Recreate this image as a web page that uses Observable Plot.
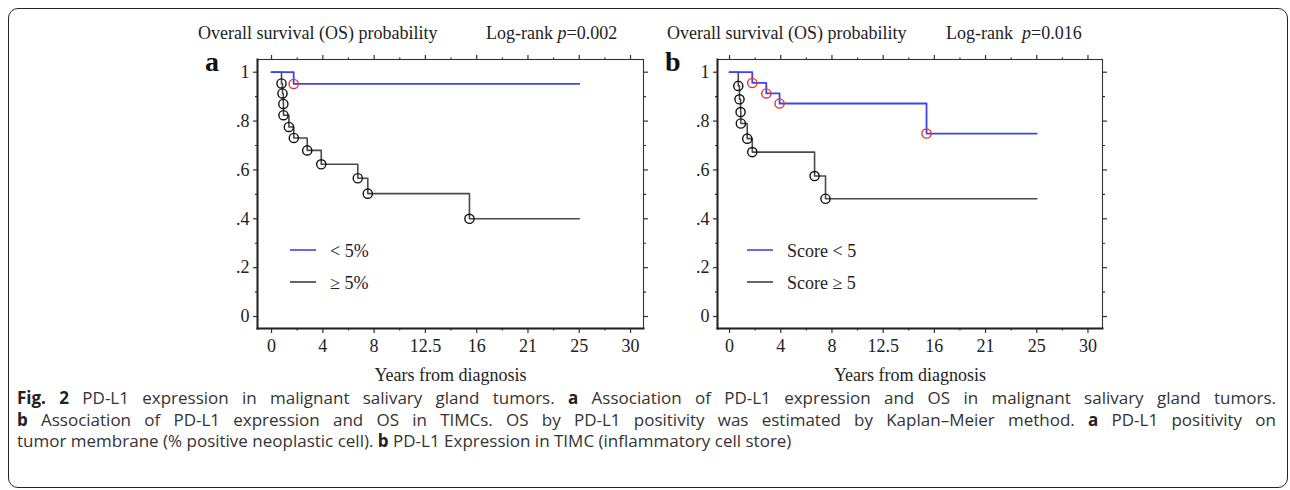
<!DOCTYPE html>
<html><head><meta charset="utf-8">
<script src="https://cdn.jsdelivr.net/npm/d3@7"></script>
<script src="https://cdn.jsdelivr.net/npm/@observablehq/plot@0.6"></script>
<style>
body{margin:0;background:#fff;width:1290px;height:490px;overflow:hidden;position:relative;font-family:"Liberation Serif",serif;}
#border{position:absolute;left:8px;top:8px;width:1280px;height:480px;border:1.6px solid #222;border-radius:10px;box-sizing:border-box;}
.panel{position:absolute;top:0;}
.t{position:absolute;font-size:18px;line-height:18px;color:#222;white-space:nowrap;}
.letter{position:absolute;font-size:28px;line-height:28px;font-weight:bold;color:#111;}
.lg{position:absolute;height:0;border-top:2px solid;}
#caption{position:absolute;left:17px;width:1259px;top:387px;font-family:"Open Sans",sans-serif;font-size:17px;line-height:21.6px;color:#333;}
#caption div{white-space:nowrap;}
#caption .j{text-align:justify;text-align-last:justify;white-space:normal;}
#caption b{color:#222;}
</style></head>
<body>
<div id="border"></div>
<div id="pa" class="panel" style="left:160px"></div>
<div id="pb" class="panel" style="left:620px"></div>
<div id="labels"></div>
<div id="caption"></div>
<script>
// ---- data ----
const xTickLabels = ["0","4","8","12.5","16","21","25","30"];
const yTickLabels = ["0",".2",".4",".6",".8","1"];
const followUpEnd = 25;
// Panel a: PD-L1 on tumor membrane
const aLowTimes  = [0, 1.8];
const aLowSurv   = [1, 0.952];
const aHighTimes = [0, 0.81, 0.89, 0.96, 0.97, 1.41, 1.81, 2.9, 4.04, 7.01, 7.82, 16.08];
const aHighSurv  = [1, 0.954, 0.913, 0.870, 0.824, 0.776, 0.731, 0.680, 0.623, 0.566, 0.503, 0.400];
// Panel b: TIMC score
const bLowTimes  = [0, 1.85, 2.99, 4.07, 16.03];
const bLowSurv   = [1, 0.956, 0.913, 0.872, 0.749];
const bHighTimes = [0, 0.71, 0.81, 0.90, 0.92, 1.44, 1.85, 6.92, 7.81];
const bHighSurv  = [1, 0.944, 0.889, 0.837, 0.790, 0.728, 0.673, 0.575, 0.482];

const panelTitle = "Overall survival (OS) probability";
const pValues = ["0.002", "0.016"];
const legendA = ["< 5%", "\u2265 5%"];
const legendB = ["Score < 5", "Score \u2265 5"];
const xLabel = "Years from diagnosis";

const BLUE = "#3a45ee", DARK = "#4a4a4a", RED = "#e4362f";

function curve(times, surv) {
  const pts = times.map((t, i) => ({t, s: surv[i]}));
  pts.push({t: followUpEnd, s: surv[surv.length - 1]});
  return pts;
}
function events(times, surv) {
  return times.slice(1).map((t, i) => ({t, s: surv[i + 1]}));
}

const step = 25 / 6;
const xMajor = xTickLabels.map((_, i) => i * step);
const xMinor = d3.range(7).map(i => (i + 0.5) * step);
const yMajor = yTickLabels.map((_, i) => i / 5);
const yMinor = [0.1, 0.3, 0.5, 0.7, 0.9];

function panel(low, high, xDomain, marginRight) {
  const tc = "#333";
  return Plot.plot({
    width: 500, height: 400,
    marginLeft: 97, marginRight, marginTop: 59, marginBottom: 72,
    x: {domain: xDomain, label: null},
    y: {domain: [-0.049, 1.052], label: null},
    style: {fontFamily: "'Liberation Serif', serif", fontSize: "18px", color: "#222", background: "transparent", overflow: "visible"},
    marks: [
      Plot.axisX(xMajor, {anchor: "bottom", tickSize: 5, tickPadding: 5.5, stroke: tc, strokeWidth: 1.2, label: null, tickFormat: d => xTickLabels[Math.round(d / step)]}),
      Plot.axisX(xMinor, {anchor: "bottom", tickSize: 2.5, stroke: tc, strokeWidth: 1.2, label: null, tickFormat: () => ""}),
      Plot.axisX(xMajor, {anchor: "top", tickSize: 5, stroke: tc, strokeWidth: 1.2, label: null, tickFormat: () => ""}),
      Plot.axisX(xMinor, {anchor: "top", tickSize: 2.5, stroke: tc, strokeWidth: 1.2, label: null, tickFormat: () => ""}),
      Plot.axisY(yMajor, {anchor: "left", tickSize: 4, tickPadding: 4, stroke: tc, strokeWidth: 1.2, label: null, tickFormat: d => yTickLabels[Math.round(d * 5)]}),
      Plot.axisY(yMinor, {anchor: "left", tickSize: 2, stroke: tc, strokeWidth: 1.2, label: null, tickFormat: () => ""}),
      Plot.axisY(yMajor, {anchor: "right", tickSize: 4, stroke: tc, strokeWidth: 1.2, label: null, tickFormat: () => ""}),
      Plot.axisY(yMinor, {anchor: "right", tickSize: 2, stroke: tc, strokeWidth: 1.2, label: null, tickFormat: () => ""}),
      Plot.frame({stroke: "#333", strokeWidth: 1.1}),
      Plot.frame({anchor: "left", stroke: "#222", strokeWidth: 2}),
      Plot.frame({anchor: "bottom", stroke: "#222", strokeWidth: 2}),
      Plot.text([xLabel], {frameAnchor: "bottom", dy: 52, text: d => d, fontSize: 18, fill: "#222"}),
      Plot.line(curve(high[0], high[1]), {x: "t", y: "s", stroke: DARK, strokeWidth: 1.6, curve: "step-after"}),
      Plot.dot(events(high[0], high[1]), {x: "t", y: "s", r: 4.6, stroke: "#111", strokeWidth: 1.4, fill: "none"}),
      Plot.line(curve(low[0], low[1]), {x: "t", y: "s", stroke: BLUE, strokeWidth: 1.8, curve: "step-after"}),
      Plot.dot(events(low[0], low[1]), {x: "t", y: "s", r: 4.6, stroke: RED, strokeWidth: 1.4, fill: "none"})
    ]
  });
}

document.getElementById("pa").append(panel([aLowTimes, aLowSurv], [aHighTimes, aHighSurv], [-1.14, 30.22], 17));
document.getElementById("pb").append(panel([bLowTimes, bLowSurv], [bHighTimes, bHighSurv], [-0.98, 30.35], 18));

// titles, letters, legends
const L = document.getElementById("labels");
function add(cls, html, left, top, extra) {
  const d = document.createElement("div");
  d.className = cls; d.innerHTML = html;
  d.style.left = left + "px"; d.style.top = top + "px";
  if (extra) Object.assign(d.style, extra);
  L.append(d);
}
add("t", panelTitle, 198, 24);
add("t", "Log-rank <i>p</i>=" + pValues[0], 486, 24);
add("t", panelTitle, 667, 24);
add("t", "Log-rank&nbsp; <i>p</i>=" + pValues[1], 946, 24);
add("letter", "a", 205, 48);
add("letter", "b", 665, 48);
function legend(x0, names) {
  add("lg", "", x0, 249, {width: "26px", borderColor: "#6b6be6"});
  add("lg", "", x0, 281, {width: "26px", borderColor: "#666"});
  add("t", names[0].replace("<", "&lt;"), x0 + 40, 242);
  add("t", names[1], x0 + 40, 274);
}
legend(290, legendA);
legend(747, legendB);

document.getElementById("caption").innerHTML =
  '<div class="j"><b>Fig. 2</b> PD-L1 expression in malignant salivary gland tumors. <b>a</b> Association of PD-L1 expression and OS in malignant salivary gland tumors.</div>' +
  '<div class="j"><b>b</b> Association of PD-L1 expression and OS in TIMCs. OS by PD-L1 positivity was estimated by Kaplan\u2013Meier method. <b>a</b> PD-L1 positivity on</div>' +
  '<div>tumor membrane (% positive neoplastic cell). <b>b</b> PD-L1 Expression in TIMC (inflammatory cell store)</div>';
</script>
</body></html>
